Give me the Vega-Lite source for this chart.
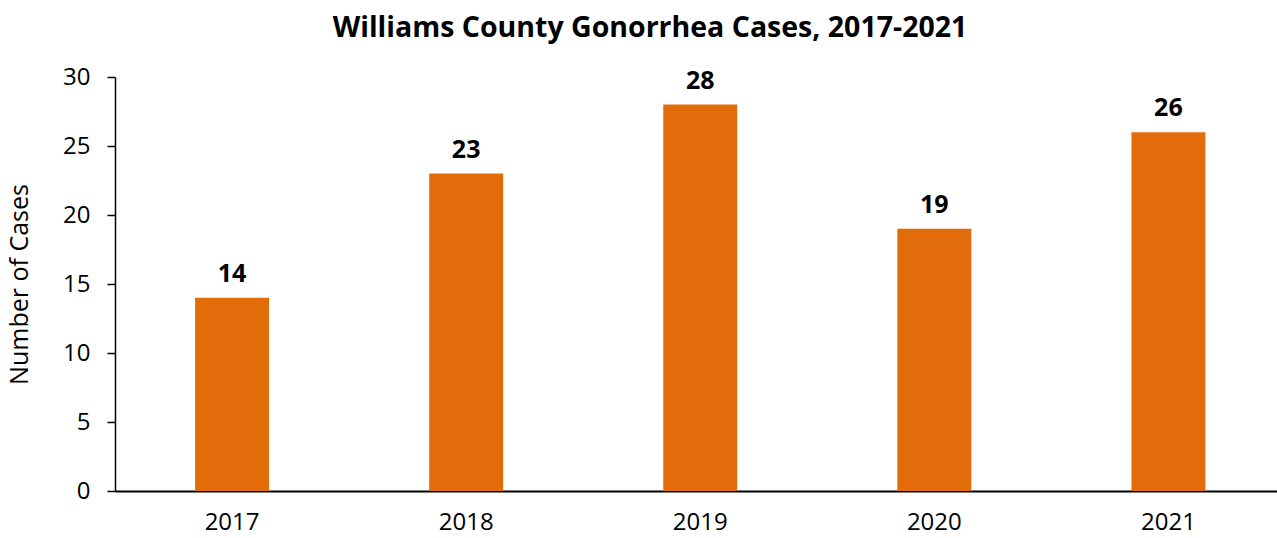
{
  "$schema": "https://vega.github.io/schema/vega-lite/v6.json",
  "width": 1162,
  "height": 414,
  "autosize": {"type": "none"},
  "padding": {"left": 115, "top": 77, "right": 0, "bottom": 47},
  "background": "white",
  "config": {"view": {"stroke": null}, "font": "Open Sans"},
  "title": {
    "text": "Williams County Gonorrhea Cases, 2017-2021",
    "font": "Open Sans",
    "fontSize": 28.5,
    "fontWeight": "bold",
    "color": "black",
    "anchor": "middle",
    "dx": -46,
    "offset": 23
  },
  "data": {
    "values": [
      {"year": "2017", "cases": 14},
      {"year": "2018", "cases": 23},
      {"year": "2019", "cases": 28},
      {"year": "2020", "cases": 19},
      {"year": "2021", "cases": 26}
    ]
  },
  "encoding": {
    "x": {
      "field": "year",
      "type": "ordinal",
      "scale": {"paddingInner": 0.684, "paddingOuter": 0.324, "align": 0.528},
      "axis": {
        "title": null,
        "labelAngle": 0,
        "labelFontSize": 24,
        "labelColor": "black",
        "labelPadding": 19,
        "ticks": false,
        "domainColor": "black",
        "domainWidth": 2
      }
    },
    "y": {
      "field": "cases",
      "type": "quantitative",
      "scale": {"domain": [0, 30]},
      "axis": {
        "title": "Number of Cases",
        "titleFontSize": 25,
        "titleFontWeight": "normal",
        "titleColor": "black",
        "titlePadding": 30,
        "values": [0, 5, 10, 15, 20, 25, 30],
        "labelFontSize": 24,
        "labelColor": "black",
        "labelPadding": 17,
        "grid": false,
        "tickSize": 8,
        "tickColor": "black",
        "tickWidth": 1.5,
        "domainColor": "black",
        "domainWidth": 1.5
      }
    }
  },
  "layer": [
    {"mark": {"type": "bar", "color": "#E36C0A"}},
    {
      "mark": {"type": "text", "baseline": "bottom", "dy": -11, "fontSize": 25, "fontWeight": "bold", "color": "black"},
      "encoding": {"text": {"field": "cases", "type": "quantitative"}}
    }
  ]
}
